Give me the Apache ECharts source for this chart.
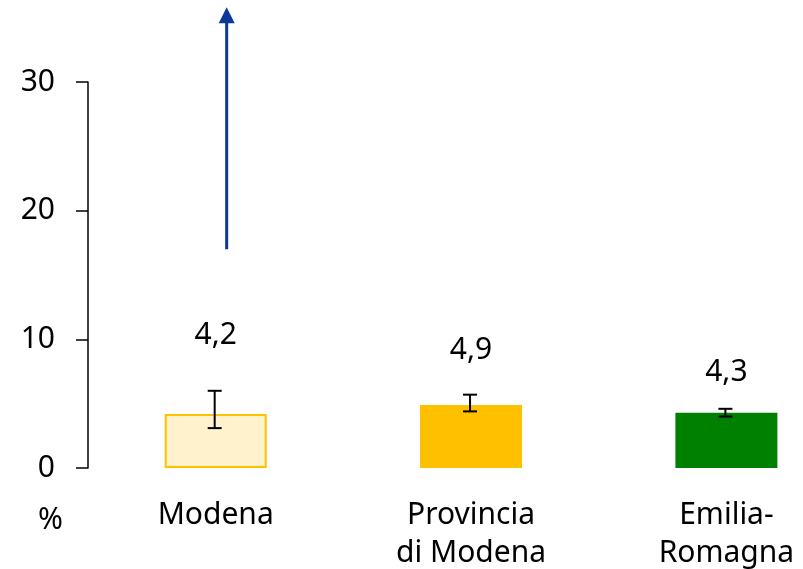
<!DOCTYPE html>
<html><head><meta charset="utf-8">
<script src="https://cdn.jsdelivr.net/npm/echarts@6/dist/echarts.min.js"></script>
<style>html,body{margin:0;padding:0;background:#fff}#c{width:803px;height:569px}</style>
</head><body><div id="c"></div>
<script>
const categories = ['Modena', 'Provincia\ndi Modena', 'Emilia-\nRomagna'];
const values = [4.2, 4.9, 4.3];
const valueLabels = ['4,2', '4,9', '4,3'];
const ciLow = [3.1, 4.4, 4.0];
const ciHigh = [6.0, 5.7, 4.6];
const arrowFrom = [17, null, null];
const arrowTo = [35.8, null, null];
const yTicks = [0, 10, 20, 30];

const FONT = '"Noto Sans", sans-serif';
const FS = 30;
const barStyles = [
  {color: '#FFF2CC', borderColor: '#FFC000', borderWidth: 2},
  {color: '#FFC000', borderColor: '#FFC000', borderWidth: 0},
  {color: '#008000', borderColor: '#008000', borderWidth: 0}
];
const labelDist = [64, 40, 25];
const ARROW_SHIFT = 11;

const chart = echarts.init(document.getElementById('c'), null, {renderer: 'canvas'});
chart.setOption({
  animation: false,
  backgroundColor: '#fff',
  grid: {left: 88, right: 0, top: 82, bottom: 101, containLabel: false},
  xAxis: {type: 'value', min: -0.5, max: 2.3, show: false},
  yAxis: {
    type: 'value', min: yTicks[0], max: yTicks[yTicks.length - 1], interval: 10,
    axisLine: {show: true, onZero: false, lineStyle: {color: '#000', width: 1.5}},
    axisTick: {show: true, length: 12, lineStyle: {color: '#000', width: 1.5}},
    splitLine: {show: false},
    axisLabel: {color: '#000', fontSize: FS, fontFamily: FONT, margin: 33}
  },
  graphic: [{type: 'text', left: 38, top: 505, style: {text: '%', fontSize: FS, fontFamily: FONT, fill: '#000'}}],
  series: [
    {
      type: 'bar', barWidth: 102,
      data: values.map((v, i) => ({
        value: [i, v], itemStyle: barStyles[i],
        label: {show: true, position: 'top', distance: labelDist[i], formatter: valueLabels[i],
                color: '#000', fontSize: FS, fontFamily: FONT}
      }))
    },
    {
      type: 'custom', clip: false, z: 4,
      data: categories.map((c, i) => [i, 0]),
      renderItem: function (params, api) {
        const p = api.coord([api.value(0), 0]);
        return {type: 'text', x: p[0], y: p[1] + 28,
          style: {text: categories[params.dataIndex], fontSize: FS, fontFamily: FONT, fill: '#000',
                  align: 'center', verticalAlign: 'top', lineHeight: 38}};
      }
    },
    {
      type: 'custom', clip: false, z: 5,
      data: ciLow.map((l, i) => [i, l, ciHigh[i]]),
      renderItem: function (params, api) {
        const lo = api.coord([api.value(0), api.value(1)]);
        const hi = api.coord([api.value(0), api.value(2)]);
        const x = lo[0] - 1, cw = 7;
        const st = {stroke: '#000', lineWidth: 2};
        return {type: 'group', children: [
          {type: 'line', shape: {x1: x, y1: lo[1], x2: x, y2: hi[1]}, style: st},
          {type: 'line', shape: {x1: x - cw, y1: lo[1], x2: x + cw, y2: lo[1]}, style: st},
          {type: 'line', shape: {x1: x - cw, y1: hi[1], x2: x + cw, y2: hi[1]}, style: st}
        ]};
      }
    },
    {
      type: 'custom', clip: false, z: 6,
      data: arrowFrom.map((f, i) => [i, f, arrowTo[i]]).filter(d => d[1] != null),
      renderItem: function (params, api) {
        const a = api.coord([api.value(0), api.value(1)]);
        const b = api.coord([api.value(0), api.value(2)]);
        const x = a[0] + ARROW_SHIFT, hw = 8, hh = 16;
        return {type: 'group', children: [
          {type: 'line', shape: {x1: x, y1: a[1], x2: x, y2: b[1] + hh - 1}, style: {stroke: '#0A389C', lineWidth: 3}},
          {type: 'polygon', shape: {points: [[x, b[1]], [x - hw, b[1] + hh], [x + hw, b[1] + hh]]}, style: {fill: '#0A389C'}}
        ]};
      }
    }
  ]
});
</script></body></html>
